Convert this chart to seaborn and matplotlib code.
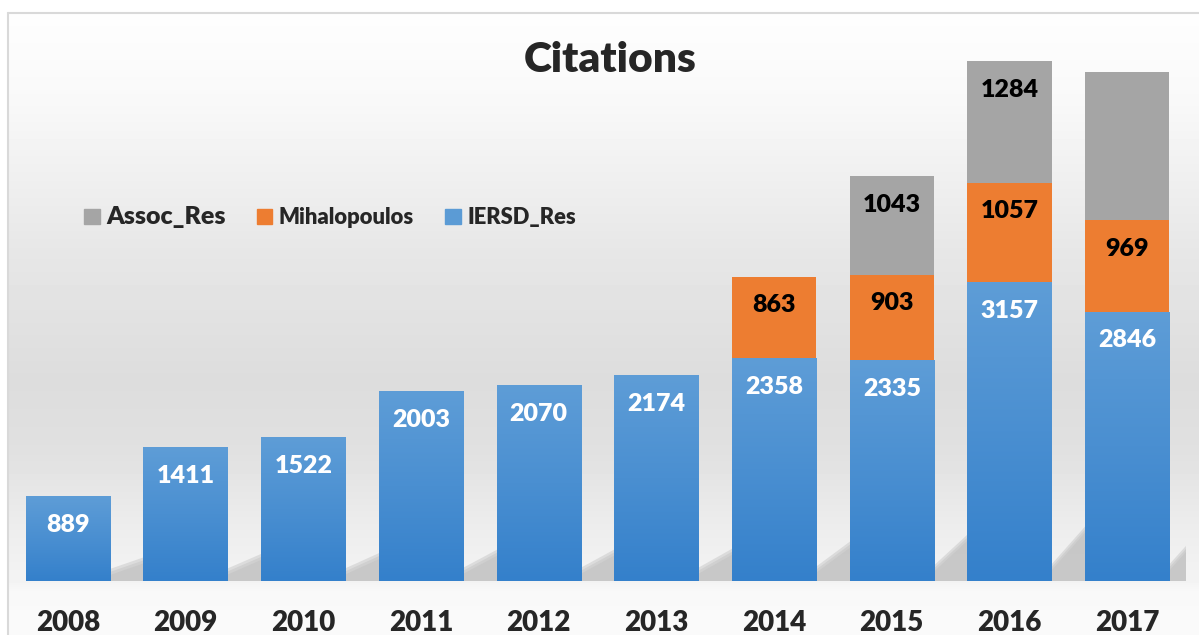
import numpy as np
import pandas as pd
import matplotlib
matplotlib.use('Agg')
import matplotlib.pyplot as plt
import seaborn as sns
from matplotlib.colors import LinearSegmentedColormap
from matplotlib.patches import Patch
from matplotlib.lines import Line2D

# data
years = ['2008', '2009', '2010', '2011', '2012', '2013', '2014', '2015', '2016', '2017']
iersd_res = [889, 1411, 1522, 2003, 2070, 2174, 2358, 2335, 3157, 2846]
mihalopoulos = [0, 0, 0, 0, 0, 0, 863, 903, 1057, 969]
assoc_res = [0, 0, 0, 0, 0, 0, 0, 1043, 1284, 1570]
assoc_labeled = [False] * 7 + [True, True, False]

BLUE = '#5b9bd5'
ORANGE = '#ed7d31'
GRAY = '#a5a5a5'
W, H = 1199, 635
HEAVY = 'heavy'


def main():
    sns.set_style('white')
    plt.rcParams['font.family'] = ['Lato', 'DejaVu Sans']

    df = pd.DataFrame({'year': years, 'iersd': iersd_res,
                       'mihal': mihalopoulos, 'assoc': assoc_res})
    df['mid'] = df['iersd'] + df['mihal']
    df['total'] = df['mid'] + df['assoc']

    fig = plt.figure(figsize=(W / 100, H / 100), dpi=100)

    # soft grey background like the office chart style
    bg = fig.add_axes([0, 0, 1, 1], zorder=0)
    ys = np.arange(H)
    shade = np.interp(ys, [0, 13, 100, 250, 380, 450, 530, 581, 592, 635],
                      [1, 0.995, 0.975, 0.905, 0.865, 0.88, 0.93, 0.955, 0.975, 0.98])
    img = np.repeat(shade[:, None], W, axis=1)
    img[:13, :] = 1
    img[:, :8] = 1
    bg.imshow(img, cmap='gray', vmin=0, vmax=1, aspect='auto', interpolation='bilinear')
    bg.axis('off')
    fig.add_artist(Line2D([8 / W, 8 / W], [0, 1 - 13 / H], color='#d9d9d9', lw=1.5,
                          transform=fig.transFigure))
    fig.add_artist(Line2D([8 / W, 1], [1 - 13 / H, 1 - 13 / H], color='#d9d9d9', lw=1.5,
                          transform=fig.transFigure))

    ax = fig.add_axes([9 / W, 54 / H, 1177 / W, 568 / H], zorder=1)
    ax.set_facecolor('none')
    ymax = 6010
    bw = 0.715
    px = ymax / 568  # data units per pixel

    # shadows behind the bars
    for i, t in enumerate(df['total']):
        xr = i + bw / 2
        a = 10 * px
        b = (18 + 0.007 * t) * px
        for k, al in enumerate([0.25, 0.3, 0.35]):
            shrink = (2 - k) * 3 * px
            ax.fill([xr - 0.05, xr - 0.05, xr + 0.3, xr + 0.3],
                    [0, max(a - shrink, 0), b - shrink, 0],
                    color='#b4b4b4', alpha=al, lw=0, zorder=0.5)

    bar_kw = dict(saturation=1, width=bw, ax=ax, zorder=1, linewidth=0, edgecolor='none')
    sns.barplot(data=df, x='year', y='total', color=GRAY, **bar_kw)
    sns.barplot(data=df, x='year', y='mid', color=ORANGE, **bar_kw)
    sns.barplot(data=df, x='year', y='iersd', color=BLUE, **bar_kw)

    # vertical gradient on the blue bars
    cmap = LinearSegmentedColormap.from_list('bl', ['#3480cb', '#4a8fd1', '#5e9dd7'])
    grad = np.linspace(0, 1, 256)[:, None]
    for p in ax.containers[2]:
        x0, y0 = p.get_x(), p.get_y()
        ax.imshow(grad, extent=[x0, x0 + p.get_width(), y0, y0 + p.get_height()],
                  origin='lower', aspect='auto', cmap=cmap, zorder=1.2)

    # value labels, inside end
    lab = dict(ha='center', va='center', fontsize=18, fontweight=HEAVY,
               textcoords='offset points', xytext=(0, -20.5), zorder=5)
    for i, row in df.iterrows():
        ax.annotate(str(row['iersd']), (i, row['iersd']), color='white', **lab)
        if row['mihal'] > 0:
            ax.annotate(str(row['mihal']), (i, row['mid']), color='black', **lab)
        if row['assoc'] > 0 and assoc_labeled[i]:
            ax.annotate(str(row['assoc']), (i, row['total']), color='black', **lab)

    ax.set_xlim(-0.5, len(years) - 0.5)
    ax.set_ylim(0, ymax)
    ax.set_xlabel('')
    ax.set_ylabel('')
    ax.set_yticks([])
    ax.tick_params(axis='x', length=0, pad=21, labelsize=20)
    for t in ax.get_xticklabels():
        t.set_fontweight(HEAVY)
    sns.despine(ax=ax, left=True, bottom=True)

    fig.text(610 / W, 1 - 60 / H, 'Citations', ha='center', va='center',
             fontsize=30.5, fontweight=HEAVY)

    handles = [Patch(color=GRAY, label='Assoc_Res'),
               Patch(color=ORANGE, label='Mihalopoulos'),
               Patch(color=BLUE, label='IERSD_Res')]
    leg = fig.legend(handles=handles, loc='center left', bbox_to_anchor=(84 / W, 1 - 217 / H),
                     ncol=3, frameon=False, prop={'weight': HEAVY, 'size': 15.8},
                     handlelength=0.72, handleheight=0.72, handletextpad=0.3,
                     columnspacing=1.4, borderpad=0, borderaxespad=0)
    leg.get_texts()[0].set_fontsize(18)

    fig.savefig('out.png', dpi=100)
    plt.close(fig)


if __name__ == '__main__':
    main()
